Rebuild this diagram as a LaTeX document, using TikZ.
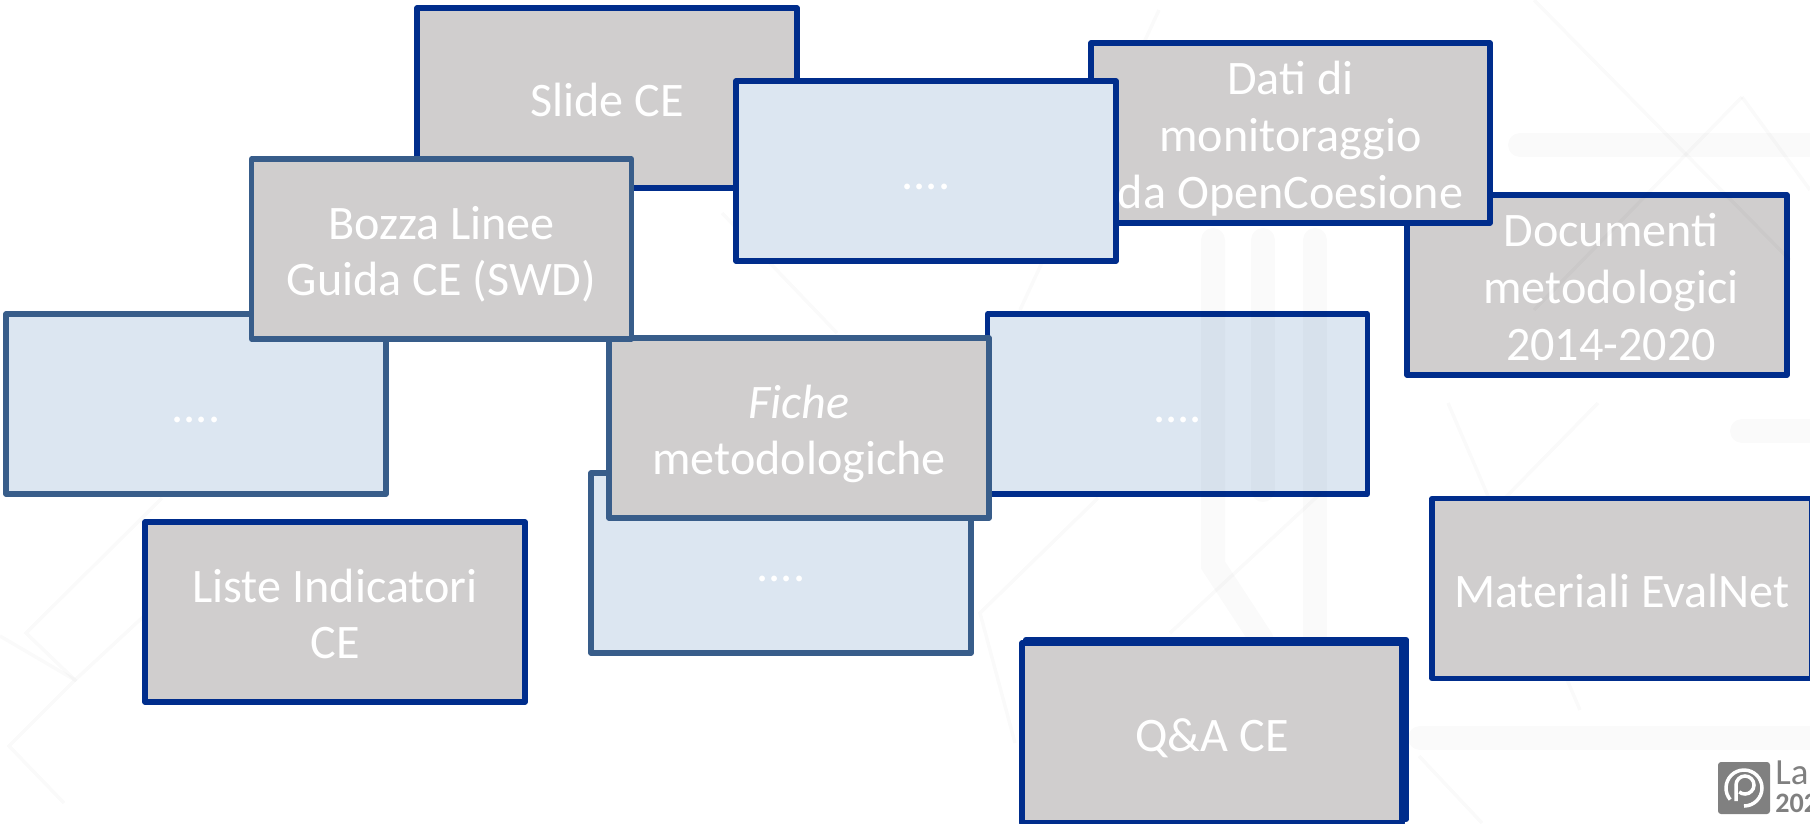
\documentclass[tikz,border=0pt]{standalone}
\usepackage{fontspec}
\setmainfont{Carlito}
\usepackage{tikz}
\definecolor{darkline}{HTML}{002D8C}
\definecolor{steelline}{HTML}{385D8A}
\definecolor{greyfill}{HTML}{D0CECE}
\definecolor{paleblue}{HTML}{DCE6F1}
\definecolor{logogrey}{HTML}{808080}
\newcommand{\lnstrut}{\rule[-5.6pt]{0pt}{32.3pt}}
\newcommand{\lnpad}{\hspace*{15.9pt}}
\begin{document}
\begin{tikzpicture}[x=0.02cm,y=0.02cm]
	\tikzstyle{every node}+=[inner sep=0pt]
	\tikzstyle{cardbox}=[draw, line width=0.105cm, line join=round, minimum width=7.6cm, minimum height=3.6cm, text=white, align=center, font=\fontsize{27.4}{32.3}\selectfont]
	\tikzstyle{greydark}=[cardbox, fill=greyfill, draw=darkline]
	\tikzstyle{greysteel}=[cardbox, fill=greyfill, draw=steelline]
	\tikzstyle{bluedark}=[cardbox, fill=paleblue, draw=darkline]
	\tikzstyle{bluesteel}=[cardbox, fill=paleblue, draw=steelline]
	\tikzstyle{markband}=[line width=0.48cm, line cap=round, black, opacity=0.018]
	\tikzstyle{markline}=[line width=0.07cm, black, opacity=0.02]
	\clip (0,0) rectangle (1810,-823);
	\node (documenti) [greydark] at (1597,-285) {\lnpad\lnstrut Documenti\\\lnpad\lnstrut metodologici\\\lnpad\lnstrut 2014-2020};
	\node (blueright) [bluedark] at (1177.5,-404) {\lnstrut ....};
	\draw [markband] (1213,-240) -- (1213,-565) -- (1262,-640);
	\draw [markband] (1263,-240) -- (1263,-490);
	\draw [markband] (1315,-240) -- (1315,-640);
	\draw [markband] (1420,-738) -- (1810,-738);
	\draw [markband] (1742,-431) -- (1810,-431);
	\draw [markband] (1520,-145) -- (1810,-145);
	\draw [markline] (1534,0) -- (1790,-260);
	\draw [markline] (1742,-97) -- (1534,-310);
	\draw [markline] (1742,-97) -- (1810,-190);
	\draw [markline] (1159,-10) -- (1020,-310);
	\draw [markline] (1098,-498) -- (980,-613) -- (1015,-743);
	\draw [markline] (1170,-633) -- (1321,-493);
	\draw [markline] (1419,-756) -- (1482,-823);
	\draw [markline] (1598,-403) -- (1500,-503);
	\draw [markline] (1448,-403) -- (1580,-710);
	\draw [markline] (162,-498) -- (26,-633) -- (75,-680) -- (9,-746) -- (64,-803);
	\draw [markline] (0,-636) -- (75,-680) -- (144,-616);
	\draw [markline] (722,-213) -- (837,-333);
	\node (slide) [greydark] at (607,-98) {\lnstrut Slide CE};
	\node (dati) [greydark, minimum width=7.98cm] at (1290.5,-133) {\lnstrut Dati di\\\lnstrut monitoraggio\\\lnstrut da OpenCoesione};
	\node (bluetop) [bluedark] at (926,-171) {\lnstrut ....};
	\node (blueleft) [bluesteel] at (196,-404) {\lnstrut ....};
	\node (bluebottom) [bluesteel] at (781,-563) {\lnstrut ....};
	\node (liste) [greydark] at (335,-612) {\lnstrut Liste Indicatori\\\lnstrut CE};
	\node (fiche) [greysteel] at (799,-428) {\lnstrut \textit{Fiche}\\\lnstrut metodologiche};
	\node (bozza) [greysteel] at (441.5,-249) {\lnstrut Bozza Linee\\\lnstrut Guida CE (SWD)};
	\node (materiali) [greydark] at (1622,-588.5) {\lnstrut Materiali EvalNet};
	\node (qaback) [greydark] at (1216,-729.5) {};
	\node (qa) [greydark] at (1212,-733) {\lnstrut Q\&A CE};
	\node (logo) [fill=logogrey, rounded corners=0.06cm, minimum width=1.04cm, minimum height=1.04cm] at (1744,-788) {};
	\draw [white, line width=0.07cm] (1744,-806) arc (-90:220:18);
	\draw [white, line width=0.07cm] (1736,-801) -- (1736,-785) arc (180:-130:9);
	\node (logoname) [anchor=west, text=logogrey, font=\fontsize{21}{21}\selectfont] at (1775,-773) {La};
	\node (logoyear) [anchor=west, text=logogrey, font=\bfseries\fontsize{16}{16}\selectfont] at (1775,-803) {202};
\end{tikzpicture}
\end{document}
